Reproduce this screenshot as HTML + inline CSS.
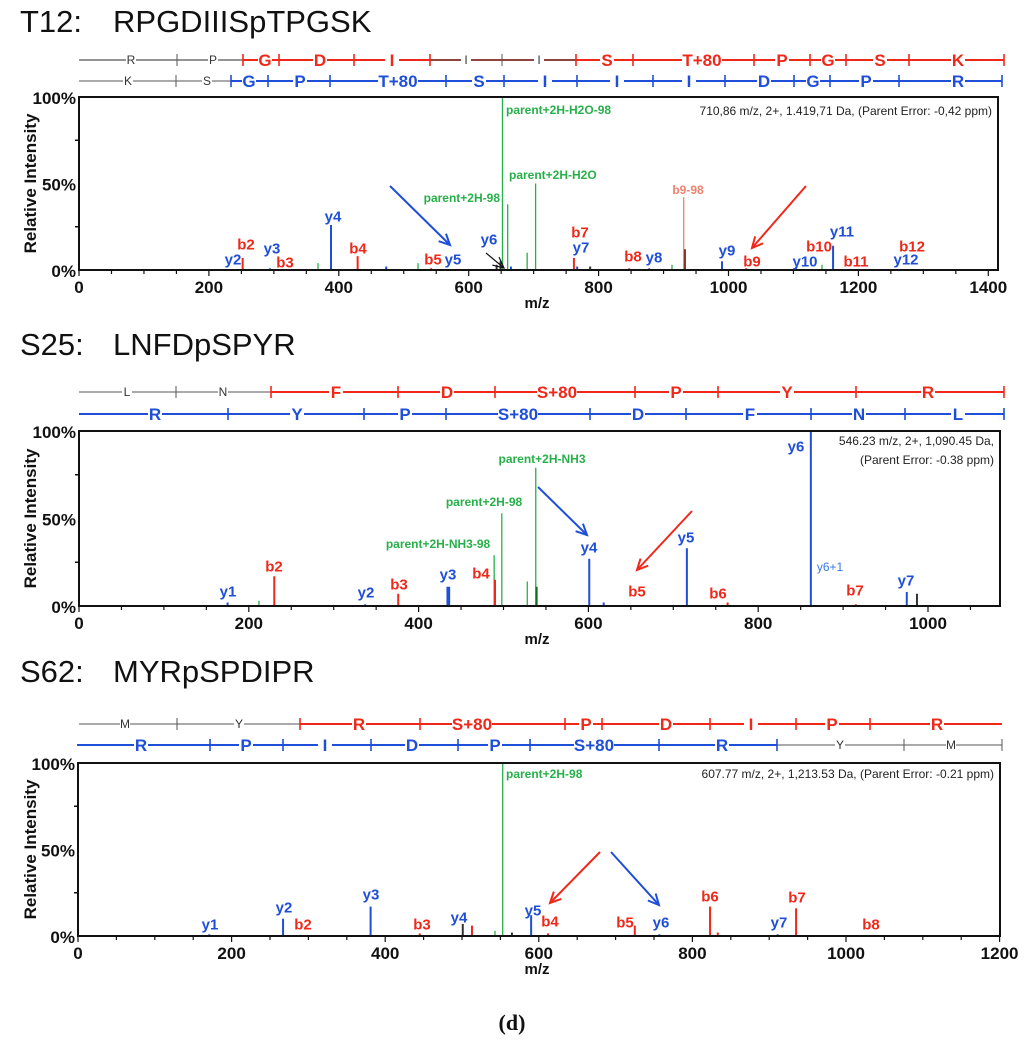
<!DOCTYPE html>
<html><head><meta charset="utf-8"><style>
html,body{margin:0;padding:0;background:#fff;}
svg{display:block;font-family:"Liberation Sans",Arial,sans-serif;}
.lbl{font-weight:bold;font-size:15px;text-anchor:middle;dominant-baseline:central;}
</style></head><body>
<svg id="fig" width="1024" height="1051" viewBox="0 0 1024 1051" xmlns="http://www.w3.org/2000/svg"></svg>
<script>
// ===== Panel 1 (T12) data =====
const p1Mz  = [252,294,368,388,429,473,522,542,643,649,652,660,665,690,703,762,767,787,847,878,913,931,933,990,1027,1104,1144,1161,1182,1256,1269];
const p1Int = [7,1,4,26,8,2,4,1,3,5,100,38,2,10,50,7,2,2,1,1,3,42,12,5,1,1,3,14,0.5,0.5,0.5];
const p1Col = ['r','b','g','b','r','b','g','r','k','k','g','g','b','g','g','r','b','k','r','b','g','s','d','b','r','b','g','b','r','b','r'];
const p1XTicks = [0,200,400,600,800,1000,1200,1400];
// ===== Panel 2 (S25) data =====
const p2Mz  = [175,212,230,337,376,434,436,489,490,498,528,538,539,601,618,716,764,862,915,975,987];
const p2Int = [2,3,17,1,7,11,11,29,15,53,14,79,11,27,2,33,2,100,1,8,7];
const p2Col = ['b','g','r','b','r','b','b','g','r','g','g','g','e','b','b','b','r','b','r','b','k'];
const p2XTicks = [0,200,400,600,800,1000];
// ===== Panel 3 (S62) data =====
const p3Mz  = [171,267,381,445,501,513,543,553,565,590,612,725,757,823,833,911,935,1033];
const p3Int = [1,10,17,1.5,7,6,3,100,2,12,1.5,6,1,17,2,1,16,0.5];
const p3Col = ['b','b','b','r','k','r','g','g','k','b','r','r','b','r','r','b','r','r'];
const p3XTicks = [0,200,400,600,800,1000,1200];

const COL={b:'#1f4fd8',r:'#f0281a',g:'#27b04a',k:'#333',s:'#f2806e',d:'#8a3526',e:'#0f6e22'};
const NS='http://www.w3.org/2000/svg';
const svg=document.getElementById('fig');
function el(tag,attrs,parent,text){const e=document.createElementNS(NS,tag);for(const k in attrs)e.setAttribute(k,attrs[k]);if(text!==undefined)e.textContent=text;(parent||svg).appendChild(e);return e;}

const layouts=[
 {name:'t12',x0:79,k:0.6495,x1:998,top:97,bot:270,mz:p1Mz,int:p1Int,col:p1Col,ticks:p1XTicks,
  title:['T12:','RPGDIIISpTPGSK'],titleY:32,
  info:[['710,86 m/z, 2+, 1.419,71 Da, (Parent Error: -0,42 ppm)',111]],
  labels:[['b2',246,245,'r'],['y2',233,260,'b'],['y3',272,249,'b'],['b3',285,263,'r'],['y4',333,217,'b'],['b4',358,249,'r'],['b5',433,260,'r'],['y5',453,260,'b'],['y6',489,240,'b'],['b7',580,233,'r'],['y7',581,248,'b'],['b8',633,257,'r'],['y8',654,258,'b'],['y9',727,251,'b'],['b9',752,262,'r'],['y10',805,262,'b'],['b10',819,247,'r'],['y11',842,232,'b'],['b11',856,262,'r'],['y12',906,260,'b'],['b12',912,247,'r']],
  glabels:[['parent+2H-H2O-98',506,110,'start'],['parent+2H-H2O',509,175,'start'],['parent+2H-98',500,198,'end']],
  slabel:['b9-98',688,190],
  arrows:[[390,186,450,245,'b'],[806,186,752,248,'r']],
  black:[486,253,504,268],
  rows:[
   {y:60,segs:[[79,243,'k'],[243,576,'r'],[576,1004,'r']],grey:[[79,243],[430,576]],
    ticks:[[177,'k'],[243,'r'],[279,'r'],[354,'r'],[430,'r'],[466,'k'],[502,'k'],[576,'r'],[633,'r'],[754,'r'],[810,'r'],[846,'r'],[909,'r'],[1004,'r']],
    letters:[['R',131,'k'],['P',213,'k'],['G',265,'r'],['D',320,'r'],['I',392,'r'],['I',466,'k',1],['I',539,'k'],['S',607,'r'],['T+80',702,'r'],['P',782,'r'],['G',828,'r'],['S',880,'r'],['K',958,'r']]},
   {y:81,segs:[[79,231,'k'],[231,1002,'b']],grey:[],
    ticks:[[176,'k'],[231,'b'],[268,'b'],[330,'b'],[446,'b'],[504,'b'],[577,'b'],[653,'b'],[725,'b'],[794,'b'],[830,'b'],[899,'b'],[1002,'b']],
    letters:[['K',128,'k'],['S',207,'k'],['G',249,'b'],['P',300,'b'],['T+80',398,'b'],['S',479,'b'],['I',545,'b'],['I',617,'b'],['I',689,'b'],['D',764,'b'],['G',813,'b'],['P',866,'b'],['R',958,'b']]}
  ]},
 {name:'s25',x0:79,k:0.849,x1:1000,top:431,bot:606,mz:p2Mz,int:p2Int,col:p2Col,ticks:p2XTicks,
  title:['S25:','LNFDpSPYR'],titleY:355,
  info:[['546.23 m/z, 2+, 1,090.45 Da,',441],['(Parent Error: -0.38 ppm)',460]],
  labels:[['y1',228,592,'b'],['b2',274,567,'r'],['y2',366,593,'b'],['b3',399,585,'r'],['y3',448,575,'b'],['b4',481,574,'r'],['y4',589,548,'b'],['y5',686,538,'b'],['b5',637,592,'r'],['b6',718,594,'r'],['y6',796,447,'b'],['b7',855,591,'r'],['y7',906,581,'b']],
  small:[['y6+1',830,567]],
  glabels:[['parent+2H-NH3',542,459,'middle'],['parent+2H-98',484,502,'middle'],['parent+2H-NH3-98',438,544,'middle']],
  arrows:[[538,487,587,535,'b'],[692,511,637,570,'r']],
  rows:[
   {y:392,segs:[[79,271,'k'],[271,1004,'r']],
    ticks:[[176,'k'],[271,'r'],[398,'r'],[495,'r'],[635,'r'],[718,'r'],[856,'r'],[1004,'r']],
    letters:[['L',127,'k'],['N',223,'k'],['F',336,'r'],['D',447,'r'],['S+80',557,'r'],['P',676,'r'],['Y',787,'r'],['R',928,'r']]},
   {y:414,segs:[[79,1004,'b']],
    ticks:[[228,'b'],[364,'b'],[446,'b'],[590,'b'],[686,'b'],[811,'b'],[905,'b'],[1004,'b']],
    letters:[['R',155,'b'],['Y',297,'b'],['P',405,'b'],['S+80',518,'b'],['D',638,'b'],['F',750,'b'],['N',859,'b'],['L',958,'b']]}
  ]},
 {name:'s62',x0:78,k:0.768,x1:1000,top:763,bot:936,mz:p3Mz,int:p3Int,col:p3Col,ticks:p3XTicks,
  title:['S62:','MYRpSPDIPR'],titleY:682,
  info:[['607.77 m/z, 2+, 1,213.53 Da,  (Parent Error: -0.21 ppm)',774]],
  labels:[['y1',210,925,'b'],['y2',284,908,'b'],['b2',303,925,'r'],['y3',371,895,'b'],['b3',422,925,'r'],['y4',459,918,'b'],['y5',533,911,'b'],['b4',550,922,'r'],['b5',625,923,'r'],['y6',661,923,'b'],['b6',710,897,'r'],['y7',779,923,'b'],['b7',797,898,'r'],['b8',871,925,'r']],
  glabels:[['parent+2H-98',506,774,'start']],
  arrows:[[600,852,550,903,'r'],[611,852,659,905,'b']],
  rows:[
   {y:724,segs:[[79,300,'k'],[300,1002,'r']],
    ticks:[[177,'k'],[300,'r'],[420,'r'],[565,'r'],[602,'r'],[710,'r'],[796,'r'],[870,'r']],
    letters:[['M',125,'k'],['Y',239,'k'],['R',359,'r'],['S+80',472,'r'],['P',586,'r'],['D',666,'r'],['I',751,'r'],['P',832,'r'],['R',937,'r']]},
   {y:745,segs:[[77,777,'b'],[777,1002,'k']],
    ticks:[[210,'b'],[283,'b'],[371,'b'],[458,'b'],[530,'b'],[659,'b'],[777,'b'],[904,'k'],[1002,'k']],
    letters:[['R',141,'b'],['P',246,'b'],['I',325,'b'],['D',412,'b'],['P',495,'b'],['S+80',594,'b'],['R',722,'b'],['Y',840,'k'],['M',951,'k']]}
  ]}
];

function arrow(g,x1,y1,x2,y2,c,w){
  el('line',{x1,y1,x2,y2,stroke:c,'stroke-width':w},g);
  const a=Math.atan2(y2-y1,x2-x1),L=12,sp=0.45;
  el('polyline',{points:`${x2-L*Math.cos(a-sp)},${y2-L*Math.sin(a-sp)} ${x2},${y2} ${x2-L*Math.cos(a+sp)},${y2-L*Math.sin(a+sp)}`,fill:'none',stroke:c,'stroke-width':w},g);
}

layouts.forEach(P=>{
  const g=el('g',{});
  
  
  const xs=m=>P.x0+m*P.k;
  const ys=v=>P.bot-(P.bot-P.top)*v/100;
  const t=el('text',{x:20,y:P.titleY,'font-size':31,fill:'#111'},g,P.title[0]);
  
  
  const t2=el('text',{x:113,y:P.titleY,'font-size':31,fill:'#111'},g,P.title[1]);
  
  
  P.rows.forEach((R,ri)=>{
    const rg=el('g',{},g);
    
    
    R.segs.forEach(s=>el('line',{x1:s[0],y1:R.y,x2:s[1],y2:R.y,stroke:s[2]==='k'?'#555':COL[s[2]],'stroke-width':s[2]==='k'?1:2},rg));
    (R.grey||[]).forEach(s=>el('line',{x1:s[0],y1:R.y,x2:s[1],y2:R.y,stroke:'#555','stroke-width':1.2},rg));
    R.ticks.forEach(tk=>el('line',{x1:tk[0],y1:R.y-6,x2:tk[0],y2:R.y+6,stroke:tk[1]==='k'?'#555':COL[tk[1]],'stroke-width':tk[1]==='k'?1:1.6},rg));
    R.letters.forEach(L=>{
      const big=L[2]!=='k';
      const w=big?(L[0].length>1?40:14):10;
      el('rect',{x:L[1]-w/2,y:R.y-8,width:w,height:16,fill:'#fff'},rg);
      el('text',{x:L[1],y:R.y+(big?6:4),'font-size':big?17:12,'font-weight':big?'bold':'normal','text-anchor':'middle',fill:big?COL[L[2]]:'#333'},rg,L[0]);
    });
  });
  P.mz.forEach((m,i)=>{
    const c=P.col[i];
    const ln=el('line',{x1:xs(m),x2:xs(m),y1:P.bot,y2:ys(P.int[i]),stroke:COL[c],'stroke-width':(c==='g'||c==='s')?1.3:2},g);
    
    
  });
  const box=el('rect',{x:P.x0,y:P.top,width:P.x1-P.x0,height:P.bot-P.top,fill:'none',stroke:'#111','stroke-width':2},g);
  
  
  [[100,'100%'],[50,'50%'],[0,'0%']].forEach(v=>el('text',{x:P.x0-3,y:ys(v[0])+7,'font-size':17,'font-weight':'bold','text-anchor':'end',fill:'#111'},g,v[1]));
  [25,75].forEach(v=>el('line',{x1:P.x0-4,x2:P.x0,y1:ys(v),y2:ys(v),stroke:'#111','stroke-width':1.5},g));
  const yt=el('text',{x:0,y:0,'font-size':17,'font-weight':'bold','text-anchor':'middle',fill:'#111',transform:`translate(36,${(P.top+P.bot)/2}) rotate(-90)`},g,'Relative Intensity');
  
  
  const maxMz=(P.x1-P.x0)/P.k;
  for(let m=0;m<=maxMz;m+=50){el('line',{x1:xs(m),x2:xs(m),y1:P.bot,y2:P.bot+(m%200===0?6:4),stroke:'#111','stroke-width':1.2},g);}
  P.ticks.forEach(v=>{const tl=el('text',{x:xs(v),y:P.bot+23,'font-size':17,'font-weight':'bold','text-anchor':'middle',fill:'#111'},g,String(v));
    
    });
  const xt=el('text',{x:537,y:P.bot+38,'font-size':15,'font-weight':'bold','text-anchor':'middle',fill:'#111'},g,'m/z');
  
  
  P.info.forEach(f=>el('text',{x:P.x1-6,y:f[1]+4,'font-size':12,'text-anchor':'end',fill:'#222'},g,f[0]));
  P.labels.forEach(L=>{const tx=el('text',{x:L[1],y:L[2],class:'lbl',fill:COL[L[3]]},g,L[0]);
    
    });
  (P.small||[]).forEach(L=>el('text',{x:L[1],y:L[2],'font-size':12,'text-anchor':'middle','dominant-baseline':'central',fill:'#3a78e8'},g,L[0]));
  P.glabels.forEach(L=>el('text',{x:L[1],y:L[2],'font-size':12,'font-weight':'bold','text-anchor':L[3],'dominant-baseline':'central',fill:COL.g},g,L[0]));
  if(P.slabel)el('text',{x:P.slabel[1],y:P.slabel[2],'font-size':12,'font-weight':'bold','text-anchor':'middle','dominant-baseline':'central',fill:COL.s},g,P.slabel[0]);
  P.arrows.forEach(a=>arrow(g,a[0],a[1],a[2],a[3],a[4]==='b'?'#1f4fd8':'#f0281a',2));
  if(P.black)arrow(g,P.black[0],P.black[1],P.black[2],P.black[3],'#111',1.2);
});
const cap=el('text',{x:512,y:1030,'font-size':22,'font-weight':'bold','text-anchor':'middle','font-family':'"Liberation Serif",serif',fill:'#111'},svg,'(d)');


</script>
</body></html>
